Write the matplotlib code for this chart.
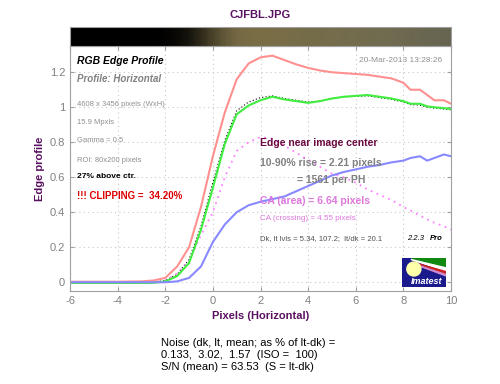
import matplotlib
matplotlib.use('Agg')
import matplotlib.pyplot as plt
import numpy as np
from matplotlib.patches import Rectangle, Polygon, Ellipse

plt.rcParams.update({'font.family': ['Liberation Sans', 'DejaVu Sans'],
                     'font.size': 8,
                     'axes.unicode_minus': False,
                     'axes.edgecolor': '#a0a0a0',
                     'xtick.color': '#a0a0a0',
                     'ytick.color': '#a0a0a0',
                     'xtick.labelcolor': '#808080',
                     'ytick.labelcolor': '#808080'})

W, H = 500, 384
purple = '#5a1060'

# edge profile
xpix = [-6, -5, -4, -3, -2.5, -2, -1.5, -1, -0.5, 0, 0.5, 1, 1.5, 2, 2.5, 3, 3.5,
        4, 4.5, 5, 5.5, 6, 6.5, 7, 7.5, 8, 8.3, 8.7, 9, 9.3, 9.7, 10]
red = [0.003, 0.003, 0.003, 0.005, 0.01, 0.025, 0.09, 0.2, 0.43, 0.72, 0.97, 1.16,
       1.25, 1.285, 1.295, 1.27, 1.245, 1.225, 1.21, 1.2, 1.195, 1.19, 1.185, 1.175,
       1.165, 1.14, 1.10, 1.10, 1.07, 1.04, 1.04, 1.02]
green = [-0.004, -0.004, -0.004, -0.004, -0.003, 0.005, 0.035, 0.11, 0.30, 0.54,
         0.79, 0.96, 1.01, 1.04, 1.06, 1.045, 1.035, 1.025, 1.035, 1.05, 1.06, 1.065,
         1.07, 1.06, 1.05, 1.035, 1.02, 1.02, 1.005, 1.0, 0.995, 0.99]
blue = [0, 0, 0, 0, 0, 0, 0.005, 0.025, 0.09, 0.23, 0.33, 0.40, 0.44, 0.46, 0.475,
        0.49, 0.52, 0.55, 0.58, 0.61, 0.63, 0.645, 0.66, 0.67, 0.685, 0.695, 0.71,
        0.72, 0.695, 0.71, 0.73, 0.72]
lum = [-0.002, -0.002, -0.002, -0.002, 0.0, 0.01, 0.045, 0.13, 0.32, 0.57, 0.81,
       0.98, 1.03, 1.055, 1.065, 1.05, 1.04, 1.03, 1.035, 1.05, 1.06, 1.062, 1.065,
       1.055, 1.045, 1.03, 1.015, 1.012, 1.0, 0.995, 0.99, 0.985]
ca = [0, 0, 0, 0, 0, 0.01, 0.05, 0.12, 0.27, 0.40, 0.60, 0.75, 0.80, 0.83, 0.82,
      0.78, 0.74, 0.70, 0.66, 0.62, 0.60, 0.57, 0.53, 0.50, 0.47, 0.43, 0.41, 0.38,
      0.36, 0.34, 0.32, 0.30]

# strip colours at the bright end (left of peak / far right)
olive_peak = np.array([122, 110, 70]) / 255
olive_right = np.array([108, 106, 85]) / 255

def fpos(x, y):
    return x / W, 1 - y / H

fig = plt.figure(figsize=(W / 100, H / 100), dpi=100)
ax = fig.add_axes([70 / W, 1 - 291 / H, 381 / W, 245 / H])

ax.plot(xpix, lum, color='k', ls=(0, (1, 2)), lw=0.8)
ax.plot(xpix, ca, color='#ff80ff', ls=(0, (1, 2.5)), lw=1.3)
ax.plot(xpix, red, color='#ff9090', lw=1.5)
ax.plot(xpix, green, color='#40ee40', lw=1.5)
ax.plot(xpix, blue, color='#8888ff', lw=1.5)

ax.set_xlim(-6, 10)
ax.set_ylim(-0.05, 1.35)
ax.set_xticks(np.arange(-6, 11, 2))
ax.set_yticks([0, 0.2, 0.4, 0.6, 0.8, 1, 1.2])
ax.set_yticklabels(['0', '0.2', '0.4', '0.6', '0.8', '1', '1.2'])
ax.grid(True, color='#c8c8c8', ls=(0, (1, 3)), lw=0.8)
ax.tick_params(axis='both', labelsize=8, length=3, direction='out')
ax.tick_params(top=True, right=True, direction='in', which='both')
ax.tick_params(bottom=True, left=True)
ax.set_xlabel('Pixels (Horizontal)', color=purple, fontweight='bold', fontsize=8, labelpad=4)
ax.set_ylabel('Edge profile', color=purple, fontweight='bold', fontsize=8, labelpad=3)

# image strip of the edge: brightness from the profile, hue drifting to grey-olive
xs = np.linspace(-6, 10, 160)
bright = np.clip(np.interp(xs, xpix, lum) / 1.05, 0, 1) ** 0.8
mix = np.clip((xs - 2) / 8, 0, 1)[:, None]
base = olive_peak * (1 - mix) + olive_right * mix
strip = np.clip(base * bright[:, None], 0, 1)[None, :, :]
sax = fig.add_axes([70 / W, 1 - 46 / H, 381 / W, 19 / H])
sax.imshow(strip, aspect='auto', extent=(-6, 10, 0, 1), interpolation='nearest')
sax.set_xticks([])
sax.set_yticks([])

fig.text(*fpos(260, 15), 'CJFBL.JPG', color=purple, fontweight='bold', fontsize=8,
         ha='center', va='center')

# left info block
fig.text(*fpos(77, 61), 'RGB Edge Profile', fontweight='bold', style='italic',
         fontsize=7.5, va='center')
fig.text(*fpos(77, 79), 'Profile: Horizontal', fontweight='bold', style='italic',
         fontsize=7, color='#808080', va='center')
gray_small = dict(fontsize=5.5, color='#909090', va='center')
fig.text(*fpos(77, 104), '4608 x 3456 pixels (WxH)', **gray_small)
fig.text(*fpos(77, 122), '15.9 Mpxls', **gray_small)
fig.text(*fpos(77, 141), 'Gamma = 0.5', **gray_small)
fig.text(*fpos(77, 160), 'ROI: 80x200 pixels', **gray_small)
fig.text(*fpos(77, 177), '27% above ctr.', fontweight='bold', fontsize=6, va='center')
fig.text(*fpos(77, 196), '!!! CLIPPING =  34.20%', fontweight='bold', fontsize=7,
         color='#dd0000', va='center')
fig.text(*fpos(442, 61), '20-Mar-2013 13:28:26', fontsize=6, color='#909090',
         ha='right', va='center')

# results block
fig.text(*fpos(260, 143), 'Edge near image center', fontweight='bold', fontsize=7.5,
         color='#6a0a40', va='center')
fig.text(*fpos(260, 163), '10-90% rise = 2.21 pixels', fontweight='bold', fontsize=7.5,
         color='#808080', va='center')
fig.text(*fpos(297, 180), '= 1561 per PH', fontweight='bold', fontsize=7.5,
         color='#808080', va='center')
fig.text(*fpos(260, 201), 'CA (area) = 6.64 pixels', fontweight='bold', fontsize=7.5,
         color='#dd77dd', va='center')
fig.text(*fpos(260, 219), 'CA (crossing) = 4.55 pixels', fontsize=5.8,
         color='#dd77dd', va='center')
fig.text(*fpos(260, 239), 'Dk, lt lvls = 5.34, 107.2;  lt/dk = 20.1', fontsize=5.5,
         color='#505050', va='center')
fig.text(*fpos(407, 239), '2.2.3', fontsize=5.5, style='italic', va='center')
fig.text(*fpos(430, 239), 'Pro', fontsize=5.5, style='italic', fontweight='bold',
         va='center')

# logo
lax = fig.add_axes([402 / W, 1 - 287 / H, 44 / W, 29 / H])
lax.set_xlim(0, 1)
lax.set_ylim(0, 1)
lax.axis('off')
lax.add_patch(Rectangle((0, 0), 1, 1, color='#1a1a8c'))
lax.add_patch(Polygon([[0.2, 1], [1, 1], [1, 0.68]], color='#118811'))
lax.add_patch(Polygon([[0.2, 0.95], [1, 0.66], [1, 0.55]], color='white'))
lax.add_patch(Polygon([[0.25, 0.85], [1, 0.53], [1, 0.45]], color='#cc2222'))
lax.add_patch(Polygon([[0.3, 0.78], [1, 0.43], [1, 0.38]], color='#cc88cc'))
lax.add_patch(Ellipse((0.27, 0.62), 0.32, 0.48, color='#ffffaa'))
lax.text(0.55, 0.2, 'Imatest', color='white', fontweight='bold', style='italic',
         fontsize=6.5, ha='center', va='center')

# noise block
fig.text(*fpos(161, 343), 'Noise (dk, lt, mean; as % of lt-dk) =', fontsize=8, va='center')
fig.text(*fpos(161, 355), '0.133,  3.02,  1.57  (ISO =  100)', fontsize=8, va='center')
fig.text(*fpos(161, 367), 'S/N (mean) = 63.53  (S = lt-dk)', fontsize=8, va='center')

fig.savefig('out.png', dpi=100)
